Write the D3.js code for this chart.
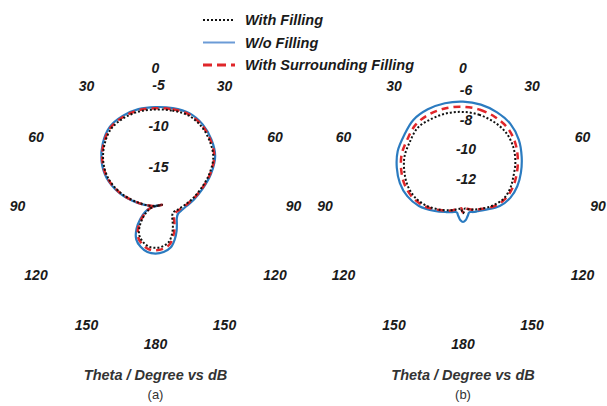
<!DOCTYPE html>
<html>
<head>
<meta charset="utf-8">
<script src="https://cdn.jsdelivr.net/npm/d3@7"></script>
<style>
  body { margin: 0; background: #fff; }
  svg { display: block; }
</style>
</head>
<body>
<svg id="chart" width="607" height="406"></svg>
<script>
// angles every 10 degrees, 0 = top, clockwise
var thetaDeg = d3.range(0, 360, 10);
var angleLabels = [0, 30, 60, 90, 120, 150, 180, 210, 240, 270, 300, 330];

// (a) values in dB
var aWithFilling = [-8.23, -8.18, -8.25, -8.8, -9.7, -10.8, -12.5, -14.2, -15.55, -16.6, -17.3, -17.7,
    -17.65, -17.3, -16.7, -16.0, -15.3, -15.0, -14.9, -15.0, -15.4, -16.0, -17.1, -18.2,
    -19.0, -19.6, -20.8, -19.8, -18.1, -15.6, -13.4, -11.7, -10.3, -9.15, -8.6, -8.3];
var aWoFilling = [-7.93, -7.88, -7.95, -8.5, -9.4, -10.5, -12.2, -13.9, -15.2, -16.2, -16.8, -17.1,
    -17.0, -16.6, -16.0, -15.3, -14.6, -14.3, -14.2, -14.3, -14.7, -15.3, -16.4, -17.6,
    -18.5, -19.3, -20.8, -19.6, -17.8, -15.3, -13.1, -11.4, -10.0, -8.85, -8.3, -8.0];
var aSurrounding = [-8.08, -8.03, -8.1, -8.65, -9.55, -10.65, -12.35, -14.05, -15.4, -16.45, -17.1, -17.45,
    -17.4, -17.0, -16.4, -15.7, -15.0, -14.7, -14.6, -14.7, -15.1, -15.7, -16.8, -17.95,
    -18.8, -19.5, -20.8, -19.7, -17.95, -15.45, -13.25, -11.55, -10.15, -9.0, -8.45, -8.15];
var aTicks = [-5, -10, -15];

// (b) values in dB
var bWithFilling = [-7.6, -7.7, -7.9, -8.2, -8.7, -9.35, -10.05, -10.6, -11.2, -12.05, -12.85, -13.28,
    -13.55, -13.7, -13.78, -13.78, -13.72, -13.62, -13.5, -13.62, -13.72, -13.78, -13.78, -13.7,
    -13.55, -13.15, -12.5, -11.55, -10.7, -10.0, -9.4, -8.8, -8.35, -7.85, -7.7, -7.6];
var bWoFilling = [-6.9, -7.0, -7.22, -7.55, -8.1, -8.79, -9.45, -10.07, -10.72, -11.5, -12.5, -12.95,
    -13.18, -13.37, -13.39, -13.3, -13.18, -13.01, -12.91, -13.01, -13.18, -13.3, -13.39, -13.37,
    -13.18, -12.8, -12.05, -11.0, -10.15, -9.43, -8.8, -8.2, -7.75, -7.24, -7.0, -6.9];
var bSurrounding = [-7.25, -7.35, -7.57, -7.9, -8.45, -9.13, -9.8, -10.42, -11.07, -11.85, -12.8, -13.25,
    -13.6, -13.72, -13.8, -13.8, -13.75, -13.65, -13.55, -13.65, -13.75, -13.8, -13.8, -13.72,
    -13.6, -13.1, -12.4, -11.35, -10.5, -9.78, -9.15, -8.55, -8.1, -7.59, -7.35, -7.25];
var bTicks = [-6, -8, -10, -12];

var seriesNames = ["With Filling", "W/o Filling", "With Surrounding Filling"];

var styles = {
    "With Filling": { stroke: "#111", width: 2, dash: "2,2" },
    "W/o Filling": { stroke: "#2b7bc0", width: 2.2, dash: null },
    "With Surrounding Filling": { stroke: "#e0262a", width: 2.5, dash: "7,5" }
};

var svg = d3.select("#chart");
var font = "'Liberation Sans', Arial, sans-serif";
var pageW = 607;

function drawPolar(cx, cy, rScale, series, ticks, caption) {
    var g = svg.append("g").attr("transform", "translate(" + cx + "," + cy + ")");
    var labelR = 138;

    // angle labels (kept inside the page at the right edge)
    g.selectAll(".alabel")
        .data(angleLabels)
        .enter().append("text")
        .attr("class", "alabel")
        .attr("x", function(d) {
            var x = labelR * Math.sin(d * Math.PI / 180);
            return Math.min(x, pageW - cx - 9);
        })
        .attr("y", function(d) { return -labelR * Math.cos(d * Math.PI / 180); })
        .attr("dy", "0.35em")
        .attr("text-anchor", "middle")
        .style("font-family", font)
        .style("font-weight", "bold")
        .style("font-style", "italic")
        .style("font-size", "14px")
        .style("fill", "#1a1a1a")
        .text(function(d) { return d > 180 ? 360 - d : d; });

    // radial tick labels
    g.selectAll(".rlabel")
        .data(ticks)
        .enter().append("text")
        .attr("class", "rlabel")
        .attr("x", 3)
        .attr("y", function(d) { return -rScale(d) + 2; })
        .attr("dy", "0.35em")
        .attr("text-anchor", "middle")
        .style("font-family", font)
        .style("font-weight", "bold")
        .style("font-style", "italic")
        .style("font-size", "14px")
        .style("fill", "#1a1a1a")
        .text(function(d) { return d; });

    var line = d3.lineRadial()
        .angle(function(d, i) { return thetaDeg[i] * Math.PI / 180; })
        .radius(function(d) { return rScale(d); })
        .curve(d3.curveCatmullRomClosed.alpha(0.5));

    // blue first, then red, then black dots on top
    [1, 2, 0].forEach(function(k) {
        var st = styles[seriesNames[k]];
        g.append("path")
            .datum(series[k])
            .attr("d", line)
            .attr("fill", "none")
            .attr("stroke", st.stroke)
            .attr("stroke-width", st.width)
            .attr("stroke-dasharray", st.dash);
    });

    g.append("text")
        .attr("x", 0)
        .attr("y", 169)
        .attr("dy", "0.35em")
        .attr("text-anchor", "middle")
        .style("font-family", font)
        .style("font-weight", "bold")
        .style("font-style", "italic")
        .style("font-size", "14.5px")
        .style("fill", "#333")
        .text("Theta / Degree vs dB");

    g.append("text")
        .attr("x", 0)
        .attr("y", 188)
        .attr("dy", "0.35em")
        .attr("text-anchor", "middle")
        .style("font-family", font)
        .style("font-size", "13px")
        .style("fill", "#333")
        .text(caption);
}

var rA = d3.scaleLinear().domain([-20, -5]).range([0, 123]);
var rB = d3.scaleLinear().domain([-14, -6]).range([0, 117.6]);

drawPolar(155.5, 206, rA, [aWithFilling, aWoFilling, aSurrounding], aTicks, "(a)");
drawPolar(463, 206, rB, [bWithFilling, bWoFilling, bSurrounding], bTicks, "(b)");

// legend
var legend = svg.append("g");
var legendY = d3.scalePoint().domain(seriesNames).range([20, 65]);
seriesNames.forEach(function(name) {
    var st = styles[name];
    var y = legendY(name);
    legend.append("line")
        .attr("x1", 203).attr("x2", 235)
        .attr("y1", y).attr("y2", y)
        .attr("stroke", name === "W/o Filling" ? "#6b9bd6" : st.stroke)
        .attr("stroke-width", name === "With Surrounding Filling" ? 3 : 2)
        .attr("stroke-dasharray", name === "With Surrounding Filling" ? "9,5" : st.dash);
    legend.append("text")
        .attr("x", 245)
        .attr("y", y)
        .attr("dy", "0.35em")
        .style("font-family", font)
        .style("font-weight", "bold")
        .style("font-style", "italic")
        .style("font-size", "14.5px")
        .style("fill", "#1a1a1a")
        .text(name);
});
</script>
</body>
</html>
